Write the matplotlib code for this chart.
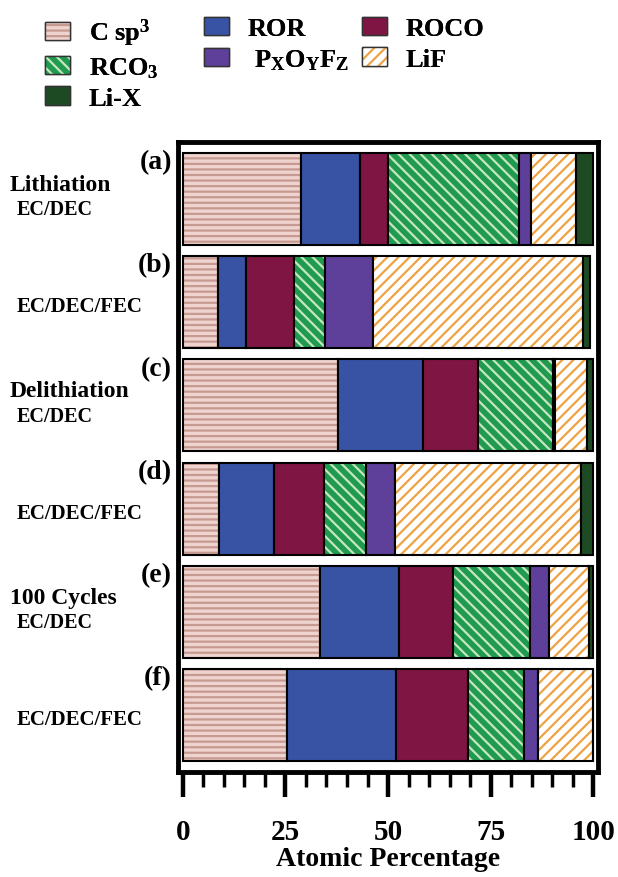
import matplotlib
matplotlib.use("Agg")
import matplotlib.pyplot as plt
import matplotlib.transforms as mtransforms
from matplotlib.patches import Patch
from matplotlib.legend_handler import HandlerTuple
from matplotlib.ticker import MultipleLocator

plt.rcParams['font.family'] = 'Liberation Serif'
plt.rcParams['font.weight'] = 'bold'
plt.rcParams['axes.labelweight'] = 'bold'
plt.rcParams['mathtext.fontset'] = 'custom'
plt.rcParams['mathtext.rm'] = 'Liberation Serif:bold'
plt.rcParams['mathtext.it'] = 'Liberation Serif:bold'
plt.rcParams['mathtext.bf'] = 'Liberation Serif:bold'
plt.rcParams['mathtext.default'] = 'rm'
plt.rcParams['hatch.linewidth'] = 1.6

# muestras (a)-(f), de arriba hacia abajo
muestras = ['(a)', '(b)', '(c)', '(d)', '(e)', '(f)']
grupos = ['Lithiation', '', 'Delithiation', '', '100 Cycles', '']
electrolitos = ['EC/DEC', 'EC/DEC/FEC', 'EC/DEC', 'EC/DEC/FEC', 'EC/DEC', 'EC/DEC/FEC']

# porcentaje atomico de cada componente
csp3 = [28.8, 8.5, 37.8, 8.9, 33.3, 25.5]
ror = [14.4, 6.9, 20.8, 13.2, 19.3, 26.5]
roco = [6.9, 11.7, 13.4, 12.2, 13.3, 17.4]
rco3 = [31.9, 7.5, 18.2, 10.3, 18.6, 13.7]
pxoyfz = [2.8, 11.7, 0.5, 7.0, 4.6, 3.5]
lif = [11.1, 51.2, 7.8, 45.4, 9.8, 13.4]
lix = [4.1, 1.6, 1.5, 3.0, 1.1, 0.0]

nombres = ['C sp$^3$', 'ROR', 'ROCO', 'RCO$_3$', ' P$_X$O$_Y$F$_Z$', 'LiF', 'Li-X']
series = [csp3, ror, roco, rco3, pxoyfz, lif, lix]
# (relleno, color del rayado, rayado)
estilos = [
    ('#eed3cf', '#c79a91', '---'),
    ('#3953a4', None, None),
    ('#7e1542', None, None),
    ('#1f9a4e', '#c6e6c0', '\\\\\\'),
    ('#5e3f99', None, None),
    ('#ffffff', '#eea244', '///'),
    ('#1d4a23', None, None),
]

fig = plt.figure(figsize=(6.18, 8.78), dpi=100)
ax = fig.add_axes([177.5 / 618, 1 - 773 / 878, 420.5 / 618, 630 / 878])

y = list(range(len(muestras)))
izq = [0.0] * len(muestras)
alto = 0.89
for vals, (fc, hc, hatch) in zip(series, estilos):
    if hatch:
        ax.barh(y, vals, left=izq, height=alto, color=fc, edgecolor=hc, hatch=hatch, linewidth=0)
        ax.barh(y, vals, left=izq, height=alto, fill=False, edgecolor='black', linewidth=1.5)
    else:
        ax.barh(y, vals, left=izq, height=alto, color=fc, edgecolor='black', linewidth=1.5)
    izq = [a + b for a, b in zip(izq, vals)]

ax.set_xlim(-1.3, 101.15)
ax.set_ylim(5.55, -0.55)
ax.set_yticks([])
ax.xaxis.set_major_locator(MultipleLocator(25))
ax.xaxis.set_minor_locator(MultipleLocator(5))
ax.tick_params(axis='x', which='major', direction='out', length=18, width=3.2, pad=15, labelsize=21)
ax.tick_params(axis='x', which='minor', direction='out', length=11, width=2.5)
for s in ax.spines.values():
    s.set_linewidth(3.5)
ax.set_xlabel('Atomic Percentage', fontsize=20, fontweight='bold', labelpad=1)

# etiquetas de cada fila
trans = mtransforms.blended_transform_factory(fig.transFigure, ax.transData)
for i in y:
    ax.text(172 / 618, i - 0.36, muestras[i], transform=trans, ha='right', va='center', fontsize=20)
    if grupos[i]:
        ax.text(10 / 618, i - 0.14, grupos[i], transform=trans, ha='left', va='center', fontsize=17)
        ax.text(17 / 618, i + 0.1, electrolitos[i], transform=trans, ha='left', va='center', fontsize=14.5)
    else:
        ax.text(17 / 618, i + 0.04, electrolitos[i], transform=trans, ha='left', va='center', fontsize=15)

# leyenda en tres columnas
handles = []
for fc, hc, hatch in estilos:
    if hatch:
        h = (Patch(facecolor=fc, edgecolor=hc, hatch=hatch, linewidth=0),
             Patch(fill=False, edgecolor='#333333', linewidth=1))
    else:
        h = Patch(facecolor=fc, edgecolor='#333333', linewidth=1)
    handles.append(h)

columnas = [([0, 3, 6], 45), ([1, 4], 204), ([2, 5], 362)]
for idx, x0 in columnas:
    leg = fig.legend([handles[k] for k in idx], [nombres[k] for k in idx],
                     loc='upper left', bbox_to_anchor=(x0 / 618, 1 - 18 / 878),
                     frameon=False, fontsize=19, borderpad=0, borderaxespad=0,
                     handlelength=0.95, handleheight=0.7, handletextpad=0.7,
                     labelspacing=0.25, handler_map={tuple: HandlerTuple(ndivide=1)})
    fig.add_artist(leg)

fig.savefig('out.png', dpi=100)
